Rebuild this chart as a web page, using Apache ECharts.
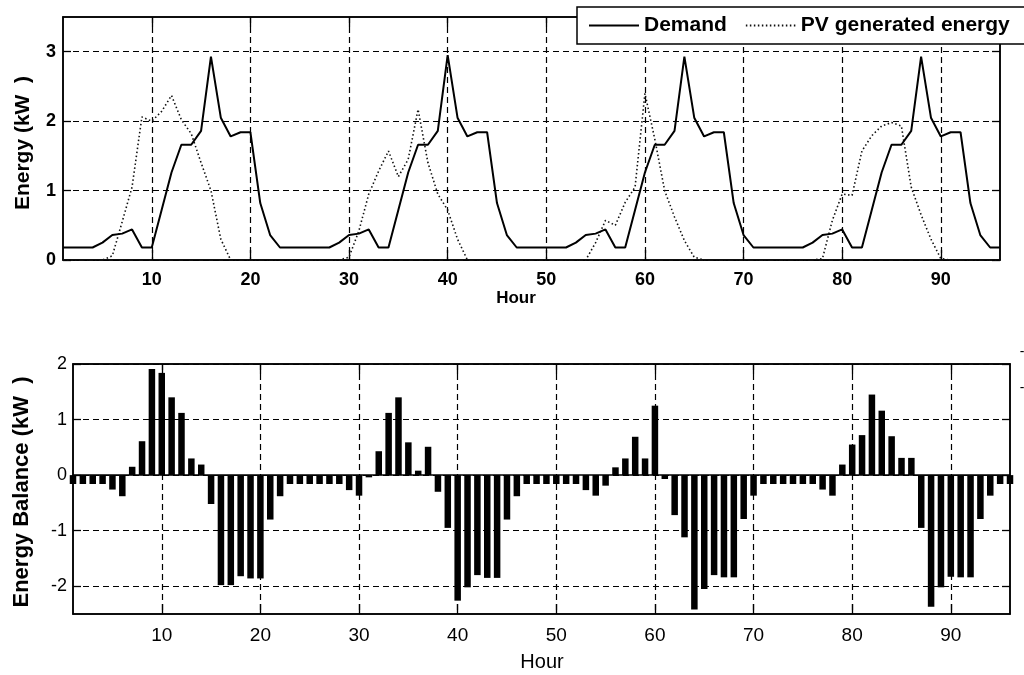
<!DOCTYPE html>
<html>
<head>
<meta charset="utf-8">
<script src="https://cdn.jsdelivr.net/npm/echarts@6/dist/echarts.min.js"></script>
<style>
html,body{margin:0;padding:0;background:#fff;}
#chart{width:1024px;height:675px;}
</style>
</head>
<body>
<div id="chart"></div>
<script>
// Hours 1..96
const hours = Array.from({length: 96}, (_, i) => i + 1);
const hourTicks = [10, 20, 30, 40, 50, 60, 70, 80, 90];
const energyTicks = [0, 1, 2, 3];
const balanceTicks = [-2, -1, 0, 1, 2];

// Demand (kW)
const demand = [
  0.18,0.18,0.18,0.18,0.25,0.36,0.38,0.44,0.18,0.18,0.72,1.26,1.66,1.66,1.86,2.93,2.05,1.78,1.84,1.84,0.82,0.36,0.18,0.18,
  0.18,0.18,0.18,0.18,0.25,0.36,0.38,0.44,0.18,0.18,0.72,1.26,1.66,1.66,1.86,2.95,2.05,1.78,1.84,1.84,0.82,0.36,0.18,0.18,
  0.18,0.18,0.18,0.18,0.25,0.36,0.38,0.44,0.18,0.18,0.72,1.26,1.66,1.66,1.86,2.93,2.05,1.78,1.84,1.84,0.82,0.36,0.18,0.18,
  0.18,0.18,0.18,0.18,0.25,0.36,0.38,0.44,0.18,0.18,0.72,1.26,1.66,1.66,1.86,2.93,2.05,1.78,1.84,1.84,0.82,0.36,0.18,0.18
];

// PV generated energy (kW)
const pv = [
  0,0,0,0,0,0.06,0.55,1.05,2.06,2.0,2.14,2.37,2.02,1.82,1.4,1.0,0.3,0,0,0,0,0,0,0,
  0,0,0,0,0,0.04,0.42,0.95,1.28,1.57,1.2,1.45,2.17,1.4,0.95,0.72,0.3,0,0,0,0,0,0,0,
  0,0,0,0,0,0,0.25,0.57,0.5,0.83,1.05,2.4,1.74,1.0,0.62,0.28,0.04,0,0,0,0,0,0,0,
  0,0,0,0,0,0.02,0.57,0.95,0.93,1.57,1.79,1.93,1.98,1.93,1.05,0.65,0.3,0.02,0,0,0,0,0,0
];

// Energy balance (kW)
const balance = [
  -0.16,-0.16,-0.16,-0.16,-0.26,-0.38,0.15,0.61,1.91,1.84,1.40,1.12,0.30,0.19,-0.52,-1.98,-1.98,-1.82,-1.86,-1.86,-0.80,-0.38,-0.16,-0.16,
  -0.16,-0.16,-0.16,-0.16,-0.27,-0.37,-0.04,0.43,1.12,1.40,0.59,0.08,0.51,-0.30,-0.95,-2.26,-2.02,-1.80,-1.85,-1.85,-0.80,-0.38,-0.16,-0.16,
  -0.16,-0.16,-0.16,-0.16,-0.27,-0.37,-0.19,0.14,0.30,0.69,0.30,1.25,-0.07,-0.72,-1.12,-2.42,-2.05,-1.80,-1.84,-1.84,-0.79,-0.37,-0.16,-0.16,
  -0.16,-0.16,-0.16,-0.16,-0.26,-0.37,0.19,0.55,0.72,1.45,1.16,0.70,0.31,0.31,-0.95,-2.37,-2.02,-1.83,-1.84,-1.84,-0.79,-0.37,-0.16,-0.16
];

const FONT = 'Liberation Sans, Arial, sans-serif';
const pair = (arr) => hours.map((h, i) => [h, arr[i]]);

const gridLine = { show: true, lineStyle: { color: '#000', type: [6, 4], width: 1.2 } };

function xAxisMain(grid, labelStyle, margin) {
  return {
    type: 'value', gridIndex: grid, min: 1, max: 96, position: 'bottom',
    axisLine: { show: true, onZero: false, lineStyle: { color: '#000', width: 1.5 } },
    axisTick: { show: true, inside: true, length: 10, customValues: hourTicks, lineStyle: { color: '#000', width: 1.3 } },
    axisLabel: Object.assign({ customValues: hourTicks, color: '#000', fontFamily: FONT, margin: margin }, labelStyle),
    splitLine: gridLine
  };
}
function xAxisTop(grid) {
  return {
    type: 'value', gridIndex: grid, min: 1, max: 96, position: 'top',
    axisLine: { show: true, onZero: false, lineStyle: { color: '#000', width: 1.5 } },
    axisTick: { show: true, inside: true, length: 10, customValues: hourTicks, lineStyle: { color: '#000', width: 1.3 } },
    axisLabel: { show: false }, splitLine: { show: false }
  };
}
function yAxisMain(grid, min, max, ticks, labelStyle, margin) {
  return {
    type: 'value', gridIndex: grid, min: min, max: max, position: 'left',
    axisLine: { show: true, onZero: false, lineStyle: { color: '#000', width: 1.5 } },
    axisTick: { show: true, inside: true, length: 8, customValues: ticks, lineStyle: { color: '#000', width: 1.3 } },
    axisLabel: Object.assign({ customValues: ticks, color: '#000', fontFamily: FONT, margin: margin }, labelStyle),
    splitLine: gridLine
  };
}
function yAxisRight(grid, min, max, ticks) {
  return {
    type: 'value', gridIndex: grid, min: min, max: max, position: 'right',
    axisLine: { show: true, onZero: false, lineStyle: { color: '#000', width: 1.5 } },
    axisTick: { show: true, inside: true, length: 8, customValues: ticks, lineStyle: { color: '#000', width: 1.3 } },
    axisLabel: { show: false }, splitLine: { show: false }
  };
}

const chart = echarts.init(document.getElementById('chart'), null, { renderer: 'canvas' });
chart.setOption({
  backgroundColor: '#fff',
  animation: false,
  textStyle: { fontFamily: FONT },
  grid: [
    { left: 63, right: 24, top: 17, height: 243, show: true, borderColor: '#000', borderWidth: 1.5, backgroundColor: '#fff' },
    { left: 73, right: 14, top: 364, height: 250, show: true, borderColor: '#000', borderWidth: 1.5, backgroundColor: '#fff' }
  ],
  legend: {
    data: ['Demand', 'PV generated energy'],
    left: 577, top: 7, width: 600,
    orient: 'horizontal',
    itemWidth: 50, itemHeight: 14, itemGap: 18,
    padding: [8, 30, 8, 11],
    borderColor: '#000', borderWidth: 1.5, backgroundColor: '#fff',
    itemStyle: { color: 'transparent', borderColor: 'transparent', borderWidth: 0 },
    textStyle: { fontFamily: FONT, fontSize: 21, fontWeight: 'bold', color: '#000' },
    z: 10
  },
  xAxis: [
    xAxisMain(0, { fontSize: 18, fontWeight: 'bold' }, 11),
    xAxisTop(0),
    xAxisMain(1, { fontSize: 19 }, 12),
    xAxisTop(1)
  ],
  yAxis: [
    yAxisMain(0, 0, 3.5, energyTicks, { fontSize: 18, fontWeight: 'bold' }, 7),
    yAxisRight(0, 0, 3.5, energyTicks),
    yAxisMain(1, -2.5, 2, balanceTicks, { fontSize: 18 }, 6),
    yAxisRight(1, -2.5, 2, balanceTicks)
  ],
  series: [
    {
      name: 'Demand', type: 'line', xAxisIndex: 0, yAxisIndex: 0,
      data: pair(demand), symbol: 'none', showSymbol: false,
      lineStyle: { color: '#000', width: 2 }, itemStyle: { color: '#000' }, z: 5
    },
    {
      name: 'PV generated energy', type: 'line', xAxisIndex: 0, yAxisIndex: 0,
      data: pair(pv), symbol: 'none', showSymbol: false,
      lineStyle: { color: '#111', width: 1.6, type: [1.5, 2.5] }, itemStyle: { color: '#000' }, z: 4
    },
    {
      name: 'Energy Balance', type: 'bar', xAxisIndex: 2, yAxisIndex: 2,
      data: pair(balance), barWidth: 6.5, itemStyle: { color: '#000' },
      markLine: {
        silent: true, symbol: 'none', label: { show: false },
        lineStyle: { color: '#000', type: 'solid', width: 1.5 },
        data: [{ yAxis: 0 }]
      }
    }
  ],
  graphic: [
    { type: 'text', x: 23, y: 143, rotation: Math.PI / 2, style: { text: 'Energy (kW  )', fontFamily: FONT, fontSize: 21, fontWeight: 'bold', fill: '#000', align: 'center', verticalAlign: 'middle' } },
    { type: 'text', x: 516, y: 298, style: { text: 'Hour', fontFamily: FONT, fontSize: 17, fontWeight: 'bold', fill: '#000', align: 'center', verticalAlign: 'middle' } },
    { type: 'text', x: 22, y: 492, rotation: Math.PI / 2, style: { text: 'Energy Balance (kW  )', fontFamily: FONT, fontSize: 22, fontWeight: 'bold', fill: '#000', align: 'center', verticalAlign: 'middle' } },
    { type: 'text', x: 542, y: 662, style: { text: 'Hour', fontFamily: FONT, fontSize: 20, fill: '#000', align: 'center', verticalAlign: 'middle' } },
    { type: 'text', x: 1022, y: 352, style: { text: '-', fontFamily: FONT, fontSize: 14, fill: '#000', align: 'center', verticalAlign: 'middle' } },
    { type: 'text', x: 1022, y: 388, style: { text: '-', fontFamily: FONT, fontSize: 14, fill: '#000', align: 'center', verticalAlign: 'middle' } }
  ]
});
</script>
</body>
</html>
